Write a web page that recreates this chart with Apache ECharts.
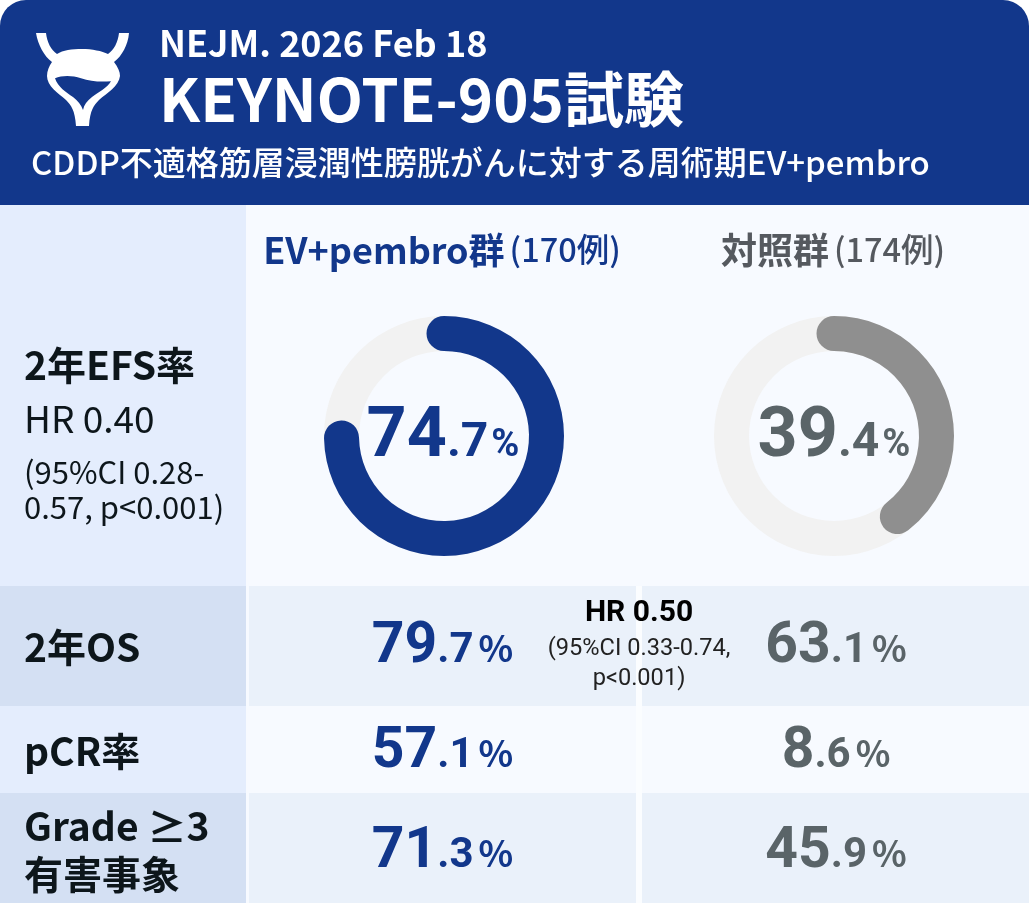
<!DOCTYPE html>
<html><head><meta charset="utf-8">
<style>html,body{margin:0;padding:0;background:#fff}#c{width:1029px;height:903px}</style>
<script src="https://cdn.jsdelivr.net/npm/echarts@6/dist/echarts.min.js"></script>
</head><body><div id="c"></div>
<script>
const headerLines = ['NEJM. 2026 Feb 18','KEYNOTE-905試験','CDDP不適格筋層浸潤性膀胱がんに対する周術期EV+pembro'];
const armNames = ['EV+pembro群','対照群'];
const armCounts = ['(170例)','(174例)'];
const efsValues = [74.7,39.4];
const rowLabels = ['2年OS','pCR率','Grade ≥3\n有害事象'];
const armAValues = [79.7,57.1,71.3];
const armBValues = [63.1,8.6,45.9];
const NAVY='#12378b', GREY='#5a6468', RING='#8f8f8f', JP='"Noto Sans CJK JP"', RB='Roboto';

const chart=echarts.init(document.getElementById('c'),null,{renderer:'canvas',width:1029,height:903});
const rect=(x,y,w,h,fill,r)=>({type:'rect',z:-10,silent:true,shape:{x,y,width:w,height:h,r:r||0},style:{fill}});
const txt=(x,y,text,font,size,weight,fill,extra)=>({type:'text',z:20,silent:true,x,y,style:Object.assign({text,fontFamily:font,fontSize:size,fontWeight:weight,fill,textVerticalAlign:'middle',textAlign:'left'},extra||{})});
const ctx=document.createElement('canvas').getContext('2d');
const mw=(t,w,s,f)=>{ctx.font=`${w} ${s}px ${f}`;return ctx.measureText(t).width;};
// three text runs sharing one baseline, centred as a whole on cx
function valueText(cx,base,v,color,big,mid,pct,gap,pf,pw){
  const [a,b]=v.toFixed(1).split('.');
  const wa=mw(a,700,big,RB), wb=mw('.'+b,700,mid,RB), wp=mw('%',pw,pct,pf);
  const x0=cx-(wa+wb+gap+wp)/2;
  const K=f=>f===RB?0.27:0.41;
  return [
    txt(x0,base-K(RB)*big,a,RB,big,700,color),
    txt(x0+wa,base-K(RB)*mid,'.'+b,RB,mid,700,color),
    txt(x0+wa+wb+gap,base-K(pf)*pct,'%',pf,pct,pw,color)
  ];
}
const rowBase=[663,768,868];
const cols=[442.5,836];
const g=[
  rect(0,0,1029,60,NAVY,[26,26,0,0]), rect(0,30,1029,175,NAVY),
  rect(0,205,1029,698,'#f7faff'),
  rect(0,205,246,381,'#e4edfd'),
  rect(0,586,246,120,'#d4e0f3'), rect(249,586,780,120,'#eaf1fa'),
  rect(0,706,246,87,'#e4edfd'),
  rect(0,793,246,110,'#d4e0f3'), rect(249,793,780,110,'#eaf1fa'),
  rect(636,586,6,317,'#fbfdff'),
  txt(159,43,headerLines[0],JP,36,700,'#fff'),
  txt(159,99,headerLines[1],JP,60,700,'#fff'),
  txt(31,162,headerLines[2],JP,33,500,'#fff'),
  {type:'text',z:20,silent:true,x:442,y:250,style:{text:`{n|${armNames[0]}}{c|${armCounts[0]}}`,textAlign:'center',textVerticalAlign:'middle',rich:{n:{fontFamily:JP,fontWeight:700,fontSize:36,fill:NAVY},c:{fontFamily:JP,fontWeight:500,fontSize:32.5,fill:NAVY,padding:[0,0,0,5]}}}},
  {type:'text',z:20,silent:true,x:833,y:250,style:{text:`{n|${armNames[1]}}{c|${armCounts[1]}}`,textAlign:'center',textVerticalAlign:'middle',rich:{n:{fontFamily:JP,fontWeight:700,fontSize:36,fill:'#55595f'},c:{fontFamily:JP,fontWeight:500,fontSize:32.5,fill:'#55595f',padding:[0,0,0,5]}}}},
  txt(24,365,'2年EFS率',JP,39,700,'#0d161b'),
  txt(24,419,'HR 0.40',JP,37,400,'#0d161b'),
  txt(24,472,'(95%CI 0.28-',JP,31,400,'#0d161b'),
  txt(24,507,'0.57, p<0.001)',JP,31,400,'#0d161b'),
  txt(24,647,rowLabels[0],JP,39,700,'#0d161b'),
  txt(24,751,rowLabels[1],JP,39,700,'#0d161b'),
  txt(24,826,rowLabels[2].split('\n')[0],JP,39,700,'#0d161b'),
  txt(24,874,rowLabels[2].split('\n')[1],JP,39,700,'#0d161b'),
  txt(639,613,'HR 0.50',RB,30,700,'#000',{textAlign:'center'}),
  txt(639,649,'(95%CI 0.33-0.74,',RB,23.6,400,'#222',{textAlign:'center'}),
  txt(639,679,'p<0.001)',RB,23.6,400,'#222',{textAlign:'center'}),
  ...valueText(443,457,efsValues[0],NAVY,70,48,38,3,RB,700),
  ...valueText(834,457,efsValues[1],GREY,70,48,38,3,RB,700)
];
armAValues.forEach((v,i)=>{
  g.push(...valueText(cols[0],rowBase[i],v,NAVY,57,42,36,5,JP,700));
  g.push(...valueText(cols[1],rowBase[i],armBValues[i],GREY,57,42,36,5,JP,700));});
const gauge=(cx,v,color)=>({type:'gauge',center:[cx,436],radius:120,startAngle:90,endAngle:-270,min:0,max:100,z:2,silent:true,
  pointer:{show:false},axisTick:{show:false},splitLine:{show:false},axisLabel:{show:false},detail:{show:false},title:{show:false},anchor:{show:false},
  axisLine:{lineStyle:{width:35,color:[[1,'#f2f2f2']]}},
  progress:{show:true,width:35,roundCap:true,itemStyle:{color}},
  data:[{value:v}],animation:false});
const icon={type:'custom',coordinateSystem:'none',silent:true,z:5,data:[0],renderItem:()=>({type:'group',children:[
  {type:'path',shape:{pathData:'M36 33 L46 33 C47 42 51 50 57 54 C63 50 72 49 82 49 C92 49 102 51 108 54 C114 50 118 42 119 33 L129 33 C128 45 122 56 114 62 C118 67 120 72 120 76 C119 86 107 93 99 100 C94 105 90 110 89 126 L76 126 C75 110 71 105 66 100 C58 93 47 86 47 76 C47 71 49 66 52 62 C44 56 38 45 36 33 Z',x:36,y:33,width:93,height:93,layout:'cover'},style:{fill:'#fff'}},
  {type:'path',shape:{pathData:'M55 78 C62 75 72 75 81 78 C90 81 100 82 111 81 C107 88 98 92 92 97 C87 101 84 105 83 110 C81 105 78 101 73 97 C66 92 58 87 55 78 Z',x:55,y:76,width:56,height:34,layout:'cover'},style:{fill:NAVY}}
]})};
chart.setOption({animation:false,backgroundColor:'transparent',
  series:[gauge(444,efsValues[0],NAVY),gauge(834,efsValues[1],RING),icon],
  graphic:{elements:g}});
</script></body></html>
